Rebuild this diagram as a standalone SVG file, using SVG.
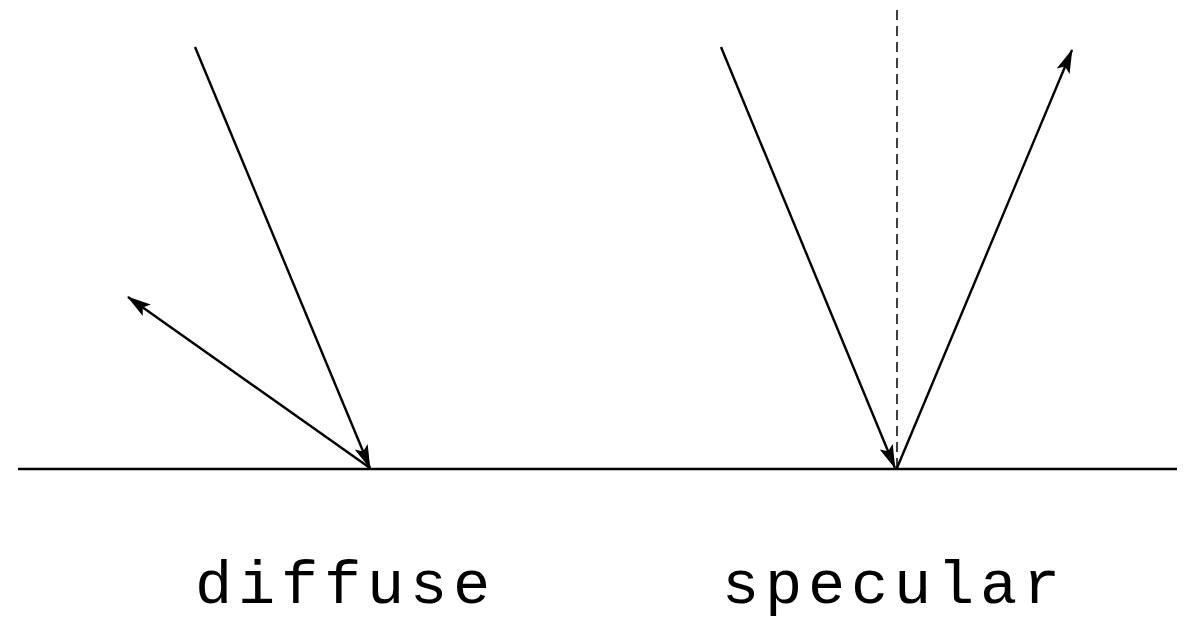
<svg xmlns="http://www.w3.org/2000/svg" width="1193" height="620" viewBox="0 0 1193 620">
<style>
.ln{stroke:#000;stroke-width:2.4;fill:none}
.dash{stroke:#000;stroke-width:1.5;stroke-dasharray:10,6;fill:none}
.lbl{font-family:"Liberation Mono","Courier New",monospace;font-size:62px;letter-spacing:5.8px;fill:#000}
</style>
<defs>
<marker id="ah" markerWidth="24" markerHeight="16" refX="23" refY="8" orient="auto" markerUnits="userSpaceOnUse">
<path d="M0,1 L24,8 L0,15 L5,8 Z" fill="#000"/>
</marker>
</defs>
<rect width="1193" height="620" fill="#fff"/>
<g id="surface"><line class="ln" x1="18" y1="469" x2="1177" y2="469"/></g>
<g id="connectors">
<line class="ln" x1="195" y1="47" x2="370" y2="468" marker-end="url(#ah)"/>
<line class="ln" x1="370" y1="468" x2="128" y2="297" marker-end="url(#ah)"/>
<line class="ln" x1="721" y1="47" x2="895" y2="468" marker-end="url(#ah)"/>
<line class="ln" x1="897" y1="468" x2="1072" y2="50" marker-end="url(#ah)"/>
<line class="dash" x1="897" y1="10" x2="897" y2="469"/>
</g>
<g id="label-diffuse"><text class="lbl" x="195" y="603">diffuse</text></g>
<g id="label-specular"><text class="lbl" x="722" y="603">specular</text></g>
</svg>
